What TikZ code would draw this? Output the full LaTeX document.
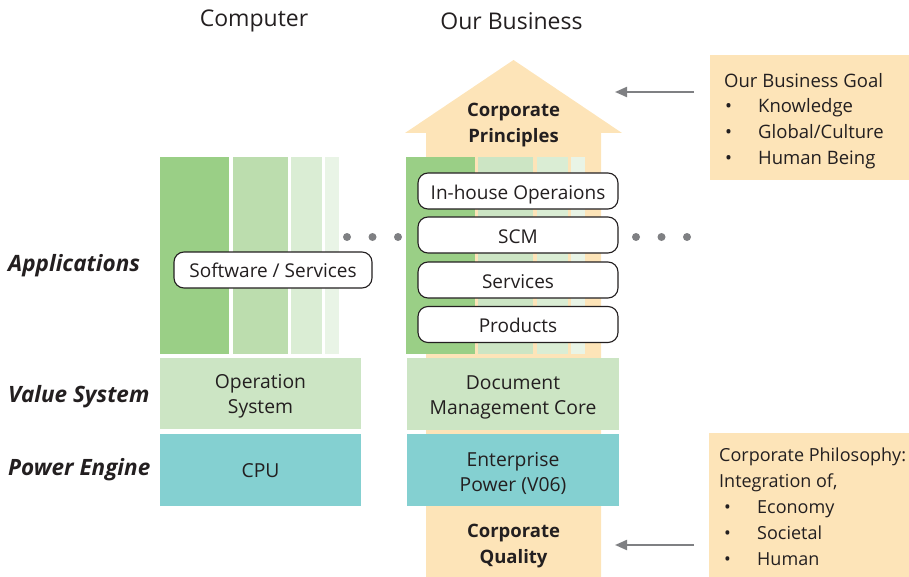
\documentclass[tikz,border=0pt]{standalone}
\usepackage{fontspec}
\setmainfont{Open Sans}
\usetikzlibrary{arrows.meta}
\definecolor{txt}{HTML}{231F20}
\definecolor{g1}{HTML}{9ACF86}
\definecolor{g2}{HTML}{BCDDAE}
\definecolor{g3}{HTML}{DAEDD4}
\definecolor{g4}{HTML}{E9F4E6}
\definecolor{vsys}{HTML}{CCE5C4}
\definecolor{teal}{HTML}{84D0D1}
\definecolor{peach}{HTML}{FDE4B8}
\definecolor{dotgray}{HTML}{7F8083}
\tikzset{
  layerbox/.style={inner sep=0pt, outer sep=0pt},
  boxtext/.style={inner sep=0pt, text=txt, align=center,
    font=\fontsize{19.3}{25}\selectfont},
  pill/.style={draw=txt, line width=1.1pt, fill=white, rounded corners=10pt,
    inner sep=0pt, text=txt, font=\fontsize{19}{22}\selectfont},
  lowpill/.style={pill, text height=16.6pt, text depth=0pt},
  layerlabel/.style={anchor=west, inner sep=0pt, text=txt,
    font=\fontsize{22.5}{26}\selectfont\bfseries\itshape},
  header/.style={inner sep=0pt, text=txt, font=\fontsize{23}{27}\selectfont},
  boldtext/.style={inner sep=0pt, text=txt, align=center,
    font=\fontsize{18.5}{25.5}\selectfont\bfseries},
  dotnode/.style={circle, fill=dotgray, minimum size=8pt, inner sep=0pt},
  sidebox/.style={fill=peach, inner sep=0pt},
  pointer/.style={draw=dotgray, line width=2pt, -{Triangle[length=12pt,width=10pt]}},
  listtext/.style={anchor=north west, inner sep=0pt, text=txt, align=left},
}
\newcommand{\bul}{\makebox[34pt][l]{\hspace*{1pt}\textbullet}}
\begin{document}
\begin{tikzpicture}[x=1pt,y=-1pt]
\useasboundingbox (0,0) rectangle (909,577);

% headers
\node[header] (hcomp) at (254,21) {Computer};
\node[header] (hbiz) at (511.5,21) {Our Business};

% layer labels
\node[layerlabel] (lapp) at (8,266) {Applications};
\node[layerlabel] (lval) at (8,397) {Value System};
\node[layerlabel] (lpow) at (8,470) {Power Engine};

% ---------- Computer stack ----------
\fill[g1] (160,157) rectangle (229,354);
\fill[g2] (233,157) rectangle (288,354);
\fill[g3] (291,157) rectangle (322,354);
\fill[g4] (325,157) rectangle (339,354);
\node[pill, minimum width=198pt, minimum height=36pt] (sw) at (273,270) {Software / Services};
\node[layerbox, fill=vsys, minimum width=201pt, minimum height=71pt] (os) at (260.5,393.5) {};
\node[boxtext] (ostxt) at ([yshift=-3pt]os.center) {Operation\\System};
\node[layerbox, fill=teal, minimum width=201pt, minimum height=72pt] (cpu) at (260.5,470) {};
\node[boxtext] (cputxt) at ([yshift=-1pt]cpu.center) {CPU};

% ---------- Our Business stack: house-shaped arrow ----------
\fill[peach] (426,577) -- (426,133) -- (405,133) -- (513.5,60) -- (622,133)
  -- (601,133) -- (601,577) -- cycle;
\node[boldtext] (princ) at (513.5,125) {Corporate\\Principles};
\node[boldtext] (qual) at (513.5,546) {Corporate\\Quality};
\fill[g1] (406,157) rectangle (475,354);
\fill[vsys] (478,157) rectangle (533,354);
\fill[g3] (537,157) rectangle (568,354);
\fill[g4] (571,157) rectangle (585,354);
\node[lowpill, minimum width=200pt, minimum height=36pt] (inh) at (518,191) {In-house Operaions};
\node[lowpill, minimum width=200pt, minimum height=36pt] (scm) at (518,235) {SCM};
\node[lowpill, minimum width=200pt, minimum height=36pt] (srv) at (518,280) {Services};
\node[lowpill, minimum width=200pt, minimum height=36pt] (prd) at (518,324.5) {Products};
\node[layerbox, fill=vsys, minimum width=212pt, minimum height=72pt] (dmc) at (513,394) {};
\node[boxtext] (dmctxt) at ([yshift=-3pt]dmc.center) {Document\\Management Core};
\node[layerbox, fill=teal, minimum width=212pt, minimum height=72pt] (ep) at (513,470) {};
\node[boxtext] (eptxt) at ([yshift=-3pt]ep.center) {Enterprise\\Power (V06)};

% continuation dots
\node[dotnode] (d1) at (347,237) {};
\node[dotnode] (d2) at (372.5,237) {};
\node[dotnode] (d3) at (398,237) {};
\node[dotnode] (d4) at (636,237) {};
\node[dotnode] (d5) at (661.5,237) {};
\node[dotnode] (d6) at (687,237) {};

% ---------- side notes ----------
\node[sidebox, anchor=north west, minimum width=199pt, minimum height=125pt] (goal) at (710,55) {};
\node[listtext, font=\fontsize{18.5}{25.6}\selectfont] (goaltxt) at (724,73)
  {Our Business Goal\\\bul Knowledge\\\bul Global/Culture\\\bul Human Being};
\node[sidebox, anchor=north west, minimum width=200pt, minimum height=144pt] (phil) at (709,433) {};
\node[listtext, font=\fontsize{18}{25.8}\selectfont] (philtxt) at (719,448)
  {Corporate Philosophy:\\Integration of,\\\hspace*{4pt}\bul Economy\\\hspace*{4pt}\bul Societal\\\hspace*{4pt}\bul Human};

% pointers toward the house
\coordinate (gtail) at (694,92);
\coordinate (ghead) at (615,92);
\coordinate (ptail) at (694,545);
\coordinate (phead) at (615,545);
\draw[pointer] (gtail) -- (ghead);
\draw[pointer] (ptail) -- (phead);
\end{tikzpicture}
\end{document}
